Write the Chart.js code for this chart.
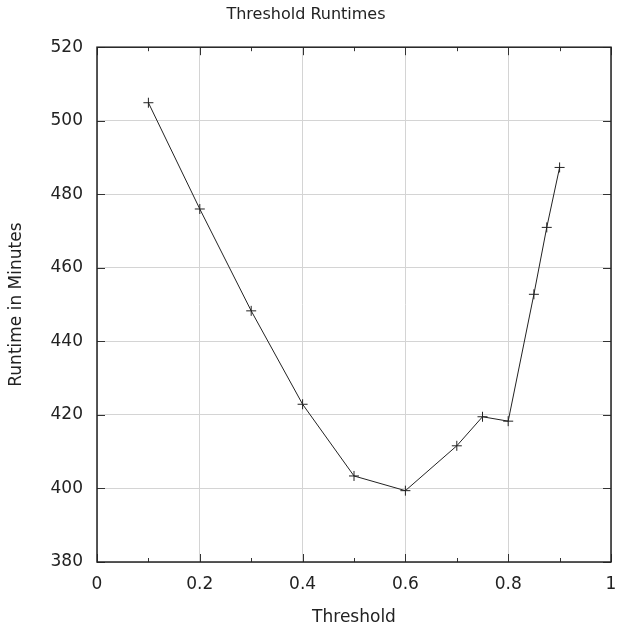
<!DOCTYPE html>
<html>
<head>
<meta charset="utf-8">
<script src="https://cdn.jsdelivr.net/npm/chart.js@4"></script>
<style>
  html, body { margin: 0; padding: 0; background: #fff; }
  #wrap { width: 617px; height: 630px; }
</style>
</head>
<body>
<div id="wrap"><canvas id="runtimeChart" width="617" height="630"></canvas></div>
<script>
// thresholds tried and the runtime each one gave
const thresholds = [0.1, 0.2, 0.3, 0.4, 0.5, 0.6, 0.7, 0.75, 0.8, 0.85, 0.875, 0.9];
const runtimes = [504.9, 476.0, 448.3, 422.9, 403.4, 399.4, 411.6, 419.5, 418.3, 452.8, 471.0, 487.3];

const xMin = 0, xMax = 1, xStep = 0.1;
const yMin = 380, yMax = 520, yStep = 20;

const textColor = '#222';
const fontFamily = '"DejaVu Sans", Verdana, sans-serif';

function isMajorX(v) {
    return Math.abs(Math.round(v * 10) % 2) === 0;
}

// inward tick marks on all four sides of the frame
const insideTicks = {
    id: 'insideTicks',
    afterDatasetsDraw(chart) {
        const ctx = chart.ctx;
        const area = chart.chartArea;
        const xs = chart.scales.x;
        const ys = chart.scales.y;
        ctx.save();
        ctx.strokeStyle = '#333';
        ctx.lineWidth = 1;
        ctx.beginPath();
        xs.ticks.forEach(t => {
            const px = Math.round(xs.getPixelForValue(t.value)) + 0.5;
            const len = isMajorX(t.value) ? 8 : 4;
            ctx.moveTo(px, area.bottom);
            ctx.lineTo(px, area.bottom - len);
            ctx.moveTo(px, area.top);
            ctx.lineTo(px, area.top + len);
        });
        ys.ticks.forEach(t => {
            const py = Math.round(ys.getPixelForValue(t.value)) + 0.5;
            ctx.moveTo(area.left, py);
            ctx.lineTo(area.left + 8, py);
            ctx.moveTo(area.right, py);
            ctx.lineTo(area.right - 8, py);
        });
        ctx.stroke();
        // frame
        ctx.lineWidth = 1.5;
        ctx.strokeStyle = '#222';
        ctx.strokeRect(area.left, area.top, area.right - area.left, area.bottom - area.top);
        ctx.restore();
    }
};

const ctx = document.getElementById('runtimeChart').getContext('2d');

new Chart(ctx, {
    type: 'line',
    data: {
        datasets: [{
            label: 'Runtime',
            data: thresholds.map((t, i) => ({ x: t, y: runtimes[i] })),
            borderColor: '#222',
            borderWidth: 1,
            pointStyle: 'cross',
            pointRadius: 5,
            pointBorderWidth: 1,
            pointBorderColor: '#222',
            tension: 0,
            fill: false
        }]
    },
    options: {
        responsive: false,
        animation: false,
        layout: { padding: { left: 0, right: 5, top: 0, bottom: 0 } },
        plugins: {
            legend: { display: false },
            tooltip: { enabled: false },
            title: {
                display: true,
                text: 'Threshold Runtimes',
                color: textColor,
                font: { family: fontFamily, size: 16, weight: 'normal' },
                padding: { top: 5, bottom: 23 }
            }
        },
        scales: {
            x: {
                type: 'linear',
                min: xMin,
                max: xMax,
                border: { display: false },
                grid: {
                    drawTicks: false,
                    color: c => (c.tick && isMajorX(c.tick.value) ? '#d4d4d4' : 'rgba(0,0,0,0)')
                },
                ticks: {
                    stepSize: xStep,
                    padding: 12,
                    color: textColor,
                    maxRotation: 0,
                    autoSkip: false,
                    font: { family: fontFamily, size: 17 },
                    callback: v => (isMajorX(v) ? String(Math.round(v * 10) / 10) : '')
                },
                title: {
                    display: true,
                    text: 'Threshold',
                    color: textColor,
                    font: { family: fontFamily, size: 17 },
                    padding: { top: 0, bottom: 2 }
                },
                afterFit(scale) {
                    scale.height = 68;
                    scale.paddingLeft = 0;
                    scale.paddingRight = 0;
                }
            },
            y: {
                min: yMin,
                max: yMax,
                border: { display: false },
                grid: { drawTicks: false, color: '#d4d4d4' },
                ticks: {
                    stepSize: yStep,
                    padding: 14,
                    color: textColor,
                    font: { family: fontFamily, size: 17 }
                },
                title: {
                    display: true,
                    text: 'Runtime in Minutes',
                    color: textColor,
                    font: { family: fontFamily, size: 17 },
                    padding: { top: 6, bottom: 0 }
                },
                afterFit(scale) {
                    scale.width = 97;
                    scale.paddingTop = 0;
                    scale.paddingBottom = 0;
                }
            }
        }
    },
    plugins: [insideTicks]
});
</script>
</body>
</html>
